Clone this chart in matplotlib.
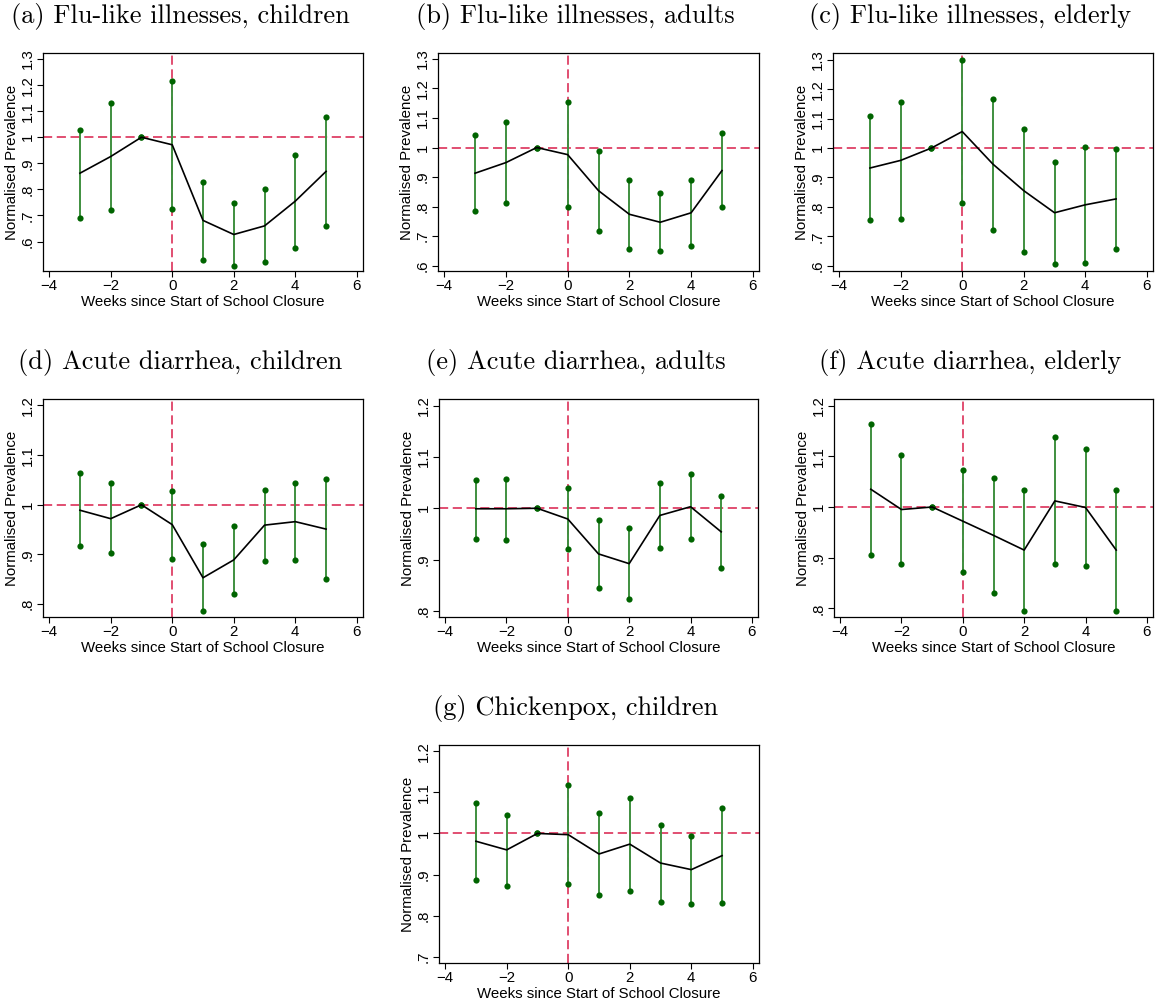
import matplotlib
matplotlib.use("Agg")
import matplotlib.pyplot as plt
import numpy as np

weeks = [-3, -2, -1, 0, 1, 2, 3, 4, 5]

titles = [
    "(a) Flu-like illnesses, children",
    "(b) Flu-like illnesses, adults",
    "(c) Flu-like illnesses, elderly",
    "(d) Acute diarrhea, children",
    "(e) Acute diarrhea, adults",
    "(f) Acute diarrhea, elderly",
    "(g) Chickenpox, children",
]

flu_children_est = [0.862, 0.926, 1.0, 0.971, 0.681, 0.627, 0.660, 0.755, 0.869]
flu_children_lo = [0.692, 0.721, 1.0, 0.724, 0.531, 0.508, 0.521, 0.574, 0.660]
flu_children_hi = [1.028, 1.132, 1.0, 1.215, 0.829, 0.746, 0.800, 0.931, 1.079]

flu_adults_est = [0.913, 0.949, 1.0, 0.976, 0.854, 0.774, 0.747, 0.779, 0.922]
flu_adults_lo = [0.784, 0.811, 1.0, 0.800, 0.717, 0.656, 0.649, 0.666, 0.798]
flu_adults_hi = [1.043, 1.088, 1.0, 1.154, 0.989, 0.889, 0.845, 0.889, 1.048]

flu_elderly_est = [0.932, 0.958, 1.0, 1.056, 0.945, 0.855, 0.780, 0.807, 0.827]
flu_elderly_lo = [0.755, 0.760, 1.0, 0.814, 0.720, 0.648, 0.605, 0.610, 0.658]
flu_elderly_hi = [1.109, 1.157, 1.0, 1.298, 1.166, 1.063, 0.952, 1.002, 0.997]

diar_children_est = [0.989, 0.972, 1.0, 0.960, 0.853, 0.889, 0.959, 0.966, 0.951]
diar_children_lo = [0.917, 0.902, 1.0, 0.891, 0.786, 0.820, 0.887, 0.888, 0.850]
diar_children_hi = [1.063, 1.043, 1.0, 1.028, 0.920, 0.957, 1.030, 1.044, 1.051]

diar_adults_est = [0.999, 0.999, 1.0, 0.979, 0.911, 0.892, 0.986, 1.003, 0.954]
diar_adults_lo = [0.941, 0.939, 1.0, 0.920, 0.844, 0.823, 0.923, 0.940, 0.883]
diar_adults_hi = [1.055, 1.058, 1.0, 1.039, 0.978, 0.962, 1.049, 1.066, 1.023]

diar_elderly_est = [1.035, 0.995, 1.0, 0.972, 0.944, 0.915, 1.012, 0.999, 0.915]
diar_elderly_lo = [0.905, 0.888, 1.0, 0.872, 0.831, 0.795, 0.887, 0.884, 0.795]
diar_elderly_hi = [1.164, 1.102, 1.0, 1.072, 1.058, 1.033, 1.139, 1.114, 1.034]

pox_children_est = [0.981, 0.960, 1.0, 0.997, 0.950, 0.974, 0.928, 0.912, 0.946]
pox_children_lo = [0.888, 0.872, 1.0, 0.876, 0.850, 0.861, 0.834, 0.828, 0.830]
pox_children_hi = [1.074, 1.046, 1.0, 1.117, 1.049, 1.087, 1.021, 0.994, 1.063]

flu_yticks = [0.6, 0.7, 0.8, 0.9, 1.0, 1.1, 1.2, 1.3]
flu_yticklabels = [".6", ".7", ".8", ".9", "1", "1.1", "1.2", "1.3"]
diar_yticks = [0.8, 0.9, 1.0, 1.1, 1.2]
diar_yticklabels = [".8", ".9", "1", "1.1", "1.2"]
pox_yticks = [0.7, 0.8, 0.9, 1.0, 1.1, 1.2]
pox_yticklabels = [".7", ".8", ".9", "1", "1.1", "1.2"]
xticks = [-4, -2, 0, 2, 4, 6]
xticklabels = ["\u22124", "\u22122", "0", "2", "4", "6"]

panels = [
    (flu_children_est, flu_children_lo, flu_children_hi, flu_yticks, flu_yticklabels, (0.487, 1.323)),
    (flu_adults_est, flu_adults_lo, flu_adults_hi, flu_yticks, flu_yticklabels, (0.582, 1.320)),
    (flu_elderly_est, flu_elderly_lo, flu_elderly_hi, flu_yticks, flu_yticklabels, (0.582, 1.323)),
    (diar_children_est, diar_children_lo, diar_children_hi, diar_yticks, diar_yticklabels, (0.774, 1.213)),
    (diar_adults_est, diar_adults_lo, diar_adults_hi, diar_yticks, diar_yticklabels, (0.788, 1.213)),
    (diar_elderly_est, diar_elderly_lo, diar_elderly_hi, diar_yticks, diar_yticklabels, (0.783, 1.213)),
    (pox_children_est, pox_children_lo, pox_children_hi, pox_yticks, pox_yticklabels, (0.685, 1.215)),
]

# axes boxes in pixels: left, top, right, bottom
boxes = [
    (43, 53, 363, 271),
    (438, 53, 759, 271),
    (833, 53, 1153, 271),
    (43, 399, 363, 617),
    (439, 399, 758, 617),
    (834, 399, 1153, 617),
    (439, 745, 759, 963),
]
title_y = [17, 17, 17, 362, 362, 362, 708]

W, H = 1157, 1000
fig = plt.figure(figsize=(W / 100, H / 100), dpi=100)
fig.patch.set_facecolor("white")

sans = ["Liberation Sans", "DejaVu Sans"]
green_line = "#3f8f3f"
green_dot = "#006400"
ref_col = "#d81e4a"

for i, (est, lo, hi, yt, ytl, ylim) in enumerate(panels):
    l, t, r, b = boxes[i]
    ax = fig.add_axes([l / W, 1 - b / H, (r - l) / W, (b - t) / H])
    ax.axhline(1.0, color=ref_col, lw=1.1, ls=(0, (6, 3)), zorder=1)
    ax.axvline(0.0, color=ref_col, lw=1.1, ls=(0, (6, 3)), zorder=1)
    ax.vlines(weeks, lo, hi, color=green_line, lw=1.4, zorder=2)
    ax.scatter(weeks, lo, s=20, color=green_dot, zorder=3, linewidths=0)
    ax.scatter(weeks, hi, s=20, color=green_dot, zorder=3, linewidths=0)
    ax.plot(weeks, est, color="black", lw=1.2, zorder=4)
    ax.set_xlim(-4.2, 6.2)
    ax.set_ylim(*ylim)
    ax.set_xticks(xticks)
    ax.set_xticklabels(xticklabels, family=sans, fontsize=10.8)
    ax.set_yticks(yt)
    ax.set_yticklabels(ytl, family=sans, fontsize=10.8, rotation=90, va="center")
    ax.tick_params(direction="out", length=4, width=0.8, pad=2)
    for s in ax.spines.values():
        s.set_linewidth(0.9)
        s.set_color("black")
    ax.set_xlabel("Weeks since Start of School Closure", family=sans, fontsize=10.8, labelpad=1)
    ax.set_ylabel("Normalised Prevalence", family=sans, fontsize=10.8, labelpad=1)
    cx = (l + r) / 2 - 23
    fig.text(cx / W, 1 - title_y[i] / H, titles[i], family="cmr10", fontsize=19,
             ha="center", va="center")

fig.savefig("out.png", dpi=100, facecolor="white")
